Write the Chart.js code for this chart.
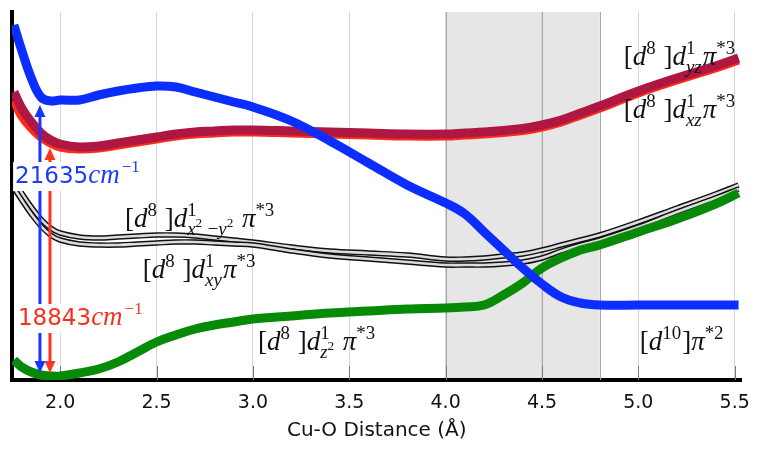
<!DOCTYPE html>
<html>
<head>
<meta charset="utf-8">
<script src="https://cdn.jsdelivr.net/npm/chart.js@4.4.1/dist/chart.umd.min.js"></script>
<style>
html,body{margin:0;padding:0;background:#fff;}
canvas{display:block;}
</style>
</head>
<body>
<canvas id="c" width="762" height="449"></canvas>
<script>
// ---- data (Cu-O distance in Å, energies in arbitrary units) ----
const distance = [1.76,1.8,1.85,1.9,1.95,2.0,2.1,2.2,2.3,2.4,2.5,2.6,2.7,2.8,2.9,3.0,3.2,3.4,3.6,3.8,4.0,4.1,4.2,4.3,4.4,4.5,4.6,4.7,4.8,5.0,5.2,5.4,5.52];
const d10 = [355,330,302,283,279,280,280,285,289,292,294,293,288,283,278,273,259,239,217,195,177,166,148,130,112,96,83,77,75,75,75,75,75];
const dxz = [280,264,252,243,237,233,231,232,235,238,241,244,246,247,248,248,247,246,245,244,244,245,246,247.5,249.5,253,258,265,272,287,300,312,320];
const dyz = [288,272,258,247,240,236,233,234,237,240,243,246,248,249,250,250,249,248,247,246,246,247,248,249.5,251.5,255,260,267,274,289,302,314,322];
const dx2y2 = [199,187,173,161,152,147,143,142,143,144,145,145,144,142,140,138,133,129,127,125,121,121,122,124,126,130,135,140,145,158,172,186,195];
const dxy = [192,180,166,154,145,140,136,135,135,136,137,138,138,137,136,135,129,124,121,118,115,115,115,116,118,122,129,135,140,153,168,182,191];
const dz2 = [20,13,8,5,4,4,7,11,18,28,38,45,51,55,58,61,64,67,69,71,72,73,75,85,97,112,122,130,135,148,161,176,187];

const xTicks = [2.0,2.5,3.0,3.5,4.0,4.5,5.0,5.5];
const shadeBand = [4.0, 4.8];

// transitions (arrows): x position, top energy, bottom energy
const arrowX = [1.895, 1.947];
const arrowTop = [275, 232];
const arrowBottom = [7, 7];
const arrowColors = ['#1637ff', '#ff3320'];
const gapLabels = ['21635', '18843'];
const gapLabelPos = [[1.766, 197], [1.781, 55]];

// state labels
const stateLabels = [
  {tokens:['[d',{sup:['8']},' ]d',{sup:['1'],sub:['yz']},'π',{sup:['*3']}], at:[4.924, 315]},
  {tokens:['[d',{sup:['8']},' ]d',{sup:['1'],sub:['xz']},'π',{sup:['*3']}], at:[4.924, 262]},
  {tokens:['[d',{sup:['8']},' ]d',{sup:['1'],sub:['x',{sup:['2']},' −y',{sup:['2']}]},' π',{sup:['*3']}], at:[2.336, 153]},
  {tokens:['[d',{sup:['8']},' ]d',{sup:['1'],sub:['xy']},'π',{sup:['*3']}], at:[2.429, 102]},
  {tokens:['[d',{sup:['8']},' ]d',{sup:['1'],sub:['z',{sup:['2']}]},' π',{sup:['*3']}], at:[3.026, 30]},
  {tokens:['[d',{sup:['10']},']π',{sup:['*2']}], at:[5.007, 30]}
];

function pts(ys){ return distance.map((d,i)=>({x:d,y:ys[i]})); }

function mathRun(ctx, items, x, y, size, draw){
  let cx = x;
  for (const it of items){
    if (typeof it === 'string'){
      for (const ch of it){
        if (ch === ' '){ cx += size*0.25; continue; }
        const italic = /[a-zπ]/.test(ch);
        ctx.font = (italic?'italic ':'') + size + 'px "Liberation Serif"';
        const w = ctx.measureText(ch).width;
        if (draw) ctx.fillText(ch, cx, y);
        cx += w;
      }
    } else {
      const s2 = size*0.7;
      let w1 = 0, w2 = 0;
      if (it.sup) w1 = mathRun(ctx, it.sup, cx, y - size*0.42, s2, draw) - cx;
      if (it.sub) w2 = mathRun(ctx, it.sub, cx, y + size*0.3, s2, draw) - cx;
      cx += Math.max(w1, w2) + size*0.04;
    }
  }
  return cx;
}

function drawArrow(ctx, x, yTop, yBot, color){
  const hl = 12, hw = 5.5;
  ctx.save();
  ctx.strokeStyle = color; ctx.fillStyle = color; ctx.lineWidth = 3;
  ctx.beginPath(); ctx.moveTo(x, yTop + hl - 1); ctx.lineTo(x, yBot - hl + 1); ctx.stroke();
  ctx.beginPath(); ctx.moveTo(x, yTop); ctx.lineTo(x - hw, yTop + hl); ctx.lineTo(x + hw, yTop + hl); ctx.closePath(); ctx.fill();
  ctx.beginPath(); ctx.moveTo(x, yBot); ctx.lineTo(x - hw, yBot - hl); ctx.lineTo(x + hw, yBot - hl); ctx.closePath(); ctx.fill();
  ctx.restore();
}

function drawGapLabel(ctx, num, x, y, color){
  ctx.save();
  ctx.textBaseline = 'alphabetic';
  ctx.font = '23px "DejaVu Sans"';
  const wn = ctx.measureText(num).width;
  ctx.font = 'italic 27px "Liberation Serif"';
  const wc = ctx.measureText('cm').width;
  ctx.font = '17px "Liberation Serif"';
  const ws = ctx.measureText('−1').width;
  const total = wn + wc + 2 + ws;
  ctx.fillStyle = '#fff';
  ctx.fillRect(x - 2, y - 21, total + 5, 29);
  ctx.fillStyle = color;
  ctx.font = '23px "DejaVu Sans"';
  ctx.fillText(num, x, y);
  ctx.font = 'italic 27px "Liberation Serif"';
  ctx.fillText('cm', x + wn, y);
  ctx.font = '17px "Liberation Serif"';
  ctx.fillText('−1', x + wn + wc + 2, y - 11);
  ctx.restore();
}

const decor = {
  id: 'decor',
  beforeDraw(chart){
    const {ctx, chartArea:a, scales:{x}} = chart;
    const x0 = x.getPixelForValue(shadeBand[0]), x1 = x.getPixelForValue(shadeBand[1]);
    ctx.save();
    ctx.fillStyle = '#e6e6e6';
    ctx.fillRect(x0, a.top, x1 - x0, a.bottom - a.top);
    ctx.restore();
  },
  beforeDatasetsDraw(chart){
    const {ctx, chartArea:a, scales:{x}} = chart;
    ctx.save();
    ctx.strokeStyle = '#a8a8a8'; ctx.lineWidth = 1;
    for (const v of [shadeBand[0], 4.5, shadeBand[1]]){
      const px = Math.round(x.getPixelForValue(v)) + 0.5;
      ctx.beginPath(); ctx.moveTo(px, a.top); ctx.lineTo(px, a.bottom); ctx.stroke();
    }
    ctx.strokeStyle = '#7a7a7a';
    for (const v of xTicks){
      const px = Math.round(x.getPixelForValue(v)) + 0.5;
      ctx.beginPath(); ctx.moveTo(px, a.bottom - 14); ctx.lineTo(px, a.bottom); ctx.stroke();
    }
    ctx.restore();
  },
  afterDatasetsDraw(chart){
    const {ctx, scales:{x, y}} = chart;
    for (let i = 0; i < arrowX.length; i++){
      drawArrow(ctx, x.getPixelForValue(arrowX[i]), y.getPixelForValue(arrowTop[i]), y.getPixelForValue(arrowBottom[i]), arrowColors[i]);
    }
    const textCol = ['#1e3cf5', '#f5321f'];
    for (let i = 0; i < gapLabels.length; i++){
      drawGapLabel(ctx, gapLabels[i], x.getPixelForValue(gapLabelPos[i][0]), y.getPixelForValue(gapLabelPos[i][1]), textCol[i]);
    }
    ctx.save();
    ctx.fillStyle = '#111'; ctx.textBaseline = 'alphabetic';
    for (const L of stateLabels){
      mathRun(ctx, L.tokens, x.getPixelForValue(L.at[0]), y.getPixelForValue(L.at[1]), 27, true);
    }
    ctx.restore();
  }
};

// Chart.js paints the first dataset on top, so the list runs from top layer to bottom layer
function line(data, color, width){
  return {data: pts(data), borderColor: color, borderWidth: width, pointRadius: 0,
          tension: 0.4, fill: false, borderCapStyle: 'butt', borderJoinStyle: 'round'};
}

new Chart(document.getElementById('c'), {
  type: 'line',
  data: {
    datasets: [
      line(d10, '#0b2dff', 9),
      line(dyz, '#ad1742', 9),
      line(dxz, '#ff2a1a', 9),
      line(dz2, '#078a07', 9),
      line(dxy, '#dcdcdc', 2.6), line(dxy, '#111', 5.5),
      line(dx2y2, '#dcdcdc', 2.6), line(dx2y2, '#111', 5.5)
    ]
  },
  options: {
    responsive: false, animation: false,
    layout: {padding: {top: 12, right: 20, left: 0, bottom: 0}},
    plugins: {legend: {display: false}, tooltip: {enabled: false}},
    scales: {
      x: {
        type: 'linear', min: 1.75, max: 5.535,
        afterBuildTicks: s => { s.ticks = xTicks.map(v => ({value: v})); },
        afterFit: s => { s.height = 69; },
        ticks: {font: {family: 'DejaVu Sans', size: 19}, color: '#111', padding: 12, maxRotation: 0, autoSkip: false,
                callback: v => Number(v).toFixed(1)},
        grid: {color: '#d6d6d6', lineWidth: 1, drawTicks: false},
        border: {display: true, color: '#000', width: 4},
        title: {display: true, text: 'Cu-O Distance (Å)', font: {family: 'DejaVu Sans', size: 20}, color: '#111', padding: {top: 0, bottom: 6}}
      },
      y: {
        min: 0, max: 368,
        afterFit: s => { s.width = 12; },
        ticks: {display: false},
        grid: {display: false},
        border: {display: true, color: '#000', width: 4}
      }
    }
  },
  plugins: [decor]
});
</script>
</body>
</html>
